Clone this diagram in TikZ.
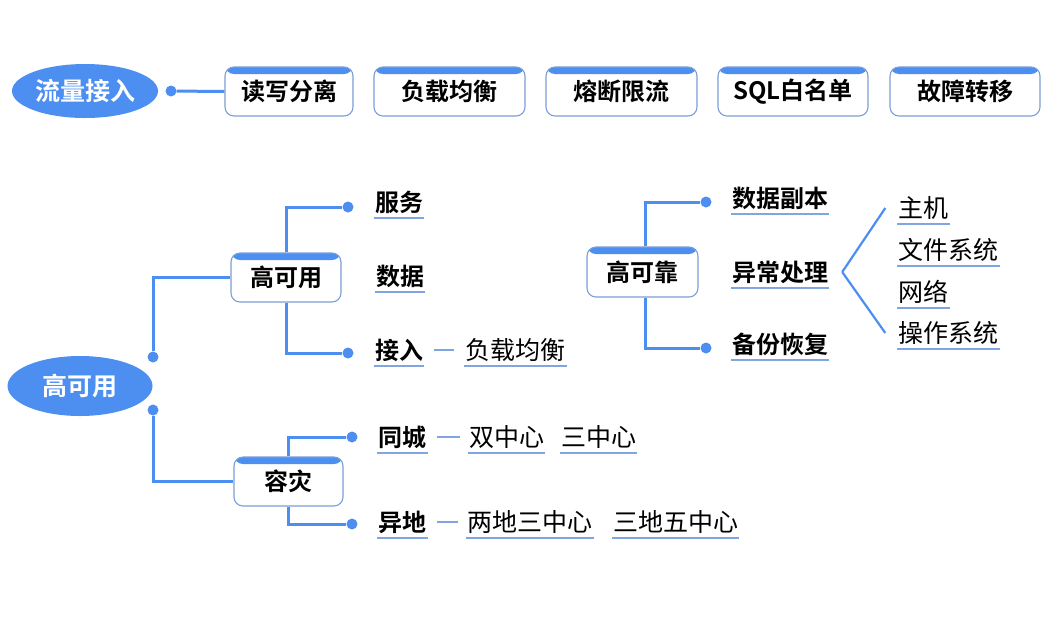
\documentclass[tikz,border=0pt]{standalone}
\usepackage{fontspec}
\setmainfont{Noto Sans CJK SC}[BoldFont={Noto Sans CJK SC Bold}]
\usetikzlibrary{positioning,shapes.geometric}
\definecolor{mainblue}{RGB}{76,143,240}
\definecolor{boxedge}{RGB}{125,158,215}
\definecolor{ulblue}{RGB}{128,166,226}

\begin{document}
\begin{tikzpicture}[x=1pt, y=-1pt,
		hub/.style={ellipse, fill=mainblue, text=white, inner sep=0pt, font=\bfseries\fontsize{25}{30}\selectfont},
		topic/.style={rectangle, rounded corners=9pt, draw=boxedge, line width=1.1pt, fill=white, minimum height=49pt, inner sep=0pt, font=\bfseries\fontsize{24}{28}\selectfont,
			path picture={\fill[mainblue] (path picture bounding box.north west) rectangle ([yshift=-7pt]path picture bounding box.north east);}},
		knob/.style={circle, fill=mainblue, inner sep=0pt, minimum size=11pt},
		branch/.style={draw=mainblue, line width=3pt},
		fork/.style={draw=mainblue, line width=2.2pt},
		tie/.style={draw=ulblue, line width=2.4pt},
		item/.style={inner xsep=1pt, inner ysep=4pt, text height=21pt, text depth=3pt, font=\bfseries\fontsize{24}{28}\selectfont,
			append after command={(\tikzlastnode.south west) edge[tie] (\tikzlastnode.south east)}},
		subitem/.style={item, font=\fontsize{25}{30}\selectfont}]
	\useasboundingbox[fill=white] (0,0) rectangle (1060,625);

	% top row
	\node[hub, minimum width=146pt, minimum height=54pt] (flow) at (85,91) {流量接入};
	\node[knob] (tdot) at (171,91) {};
	\node[topic, minimum width=128pt] (rw) at (289,91.5) {读写分离};
	\node[topic, minimum width=151pt] (lb) at (449.5,91.5) {负载均衡};
	\node[topic, minimum width=151pt] (cb) at (621.5,91.5) {熔断限流};
	\node[topic, minimum width=150pt] (sql) at (793,91.5) {SQL白名单};
	\node[topic, minimum width=150pt] (fo) at (965,91.5) {故障转移};

	% root
	\node[hub, minimum width=145pt, minimum height=60pt] (root) at (80,386) {高可用};
	\node[knob] (rdotA) at (153,357) {};
	\node[knob] (rdotB) at (153,410) {};

	% high availability
	\node[topic, minimum width=110pt] (ha) at (286,277.5) {高可用};
	\node[knob] (dsvc) at (348,207) {};
	\node[knob] (dacc) at (348,353) {};
	\node[item] (svc) at (399,202) {服务};
	\node[item] (dat) at (400,276) {数据};
	\node[item] (acc) at (399,350) {接入};
	\node[subitem] (acclb) at (515.5,350) {负载均衡};

	% disaster recovery
	\node[topic, minimum width=109pt] (dr) at (288.5,481.5) {容灾};
	\node[knob] (dsame) at (352,437) {};
	\node[knob] (ddiff) at (352,524) {};
	\node[item] (same) at (402.5,437) {同城};
	\node[item] (diff) at (402.5,522) {异地};
	\node[subitem] (dual) at (506.5,437) {双中心};
	\node[subitem] (tri) at (598.5,437) {三中心};
	\node[subitem] (twothree) at (530,522) {两地三中心};
	\node[subitem] (threefive) at (675.5,522) {三地五中心};

	% high reliability
	\node[topic, minimum width=111pt, minimum height=50pt] (hr) at (642.5,272) {高可靠};
	\node[knob] (dcopy) at (706,202) {};
	\node[knob] (dback) at (706,348) {};
	\node[item] (copy) at (780,198) {数据副本};
	\node[item] (exc) at (780,272) {异常处理};
	\node[item] (back) at (780,344) {备份恢复};
	\node[subitem] (host) at (923.5,208) {主机};
	\node[subitem] (fs) at (948.5,250) {文件系统};
	\node[subitem] (net) at (923.5,292) {网络};
	\node[subitem] (os) at (948.5,333) {操作系统};

	\draw[branch] (tdot) -- (rw.west);
	\draw[branch] (rdotA) |- (ha.west);
	\draw[branch] (rdotB) |- (dr.west);
	\draw[branch] (ha.north) |- (dsvc);
	\draw[branch] (ha.south) |- (dacc);
	\draw[branch] (dr.north) |- (dsame);
	\draw[branch] (dr.south) |- (ddiff);
	\draw[branch] ([xshift=3pt]hr.north) |- (dcopy);
	\draw[branch] ([xshift=3pt]hr.south) |- (dback);
	\draw[tie] ([xshift=10pt]acc.east) -- ([xshift=-10pt]acclb.west);
	\draw[tie] ([xshift=9pt]same.east) -- ([xshift=-8pt]dual.west);
	\draw[tie] ([xshift=9pt]diff.east) -- ([xshift=-8pt]twothree.west);
	\draw[fork] ([xshift=13pt]exc.east) -- ([xshift=-12pt]host.west);
	\draw[fork] ([xshift=13pt]exc.east) -- ([xshift=-12pt]os.west);
\end{tikzpicture}
\end{document}
